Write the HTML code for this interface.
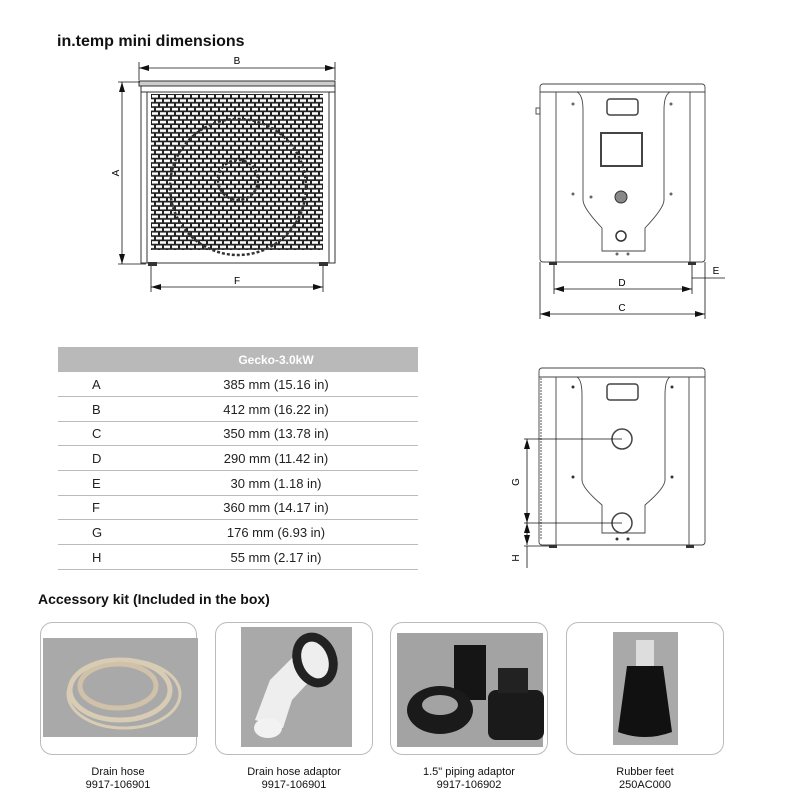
<!DOCTYPE html>
<html><head><meta charset="utf-8"><style>
html,body{margin:0;padding:0;background:#fff;width:800px;height:800px;overflow:hidden}
svg{display:block;font-family:"Liberation Sans",sans-serif}
</style></head><body>
<svg width="800" height="800" viewBox="0 0 800 800" xmlns="http://www.w3.org/2000/svg">
<defs>
<pattern id="brick" x="151" y="94" width="8" height="8.6" patternUnits="userSpaceOnUse">
<rect width="8" height="8.6" fill="#222"/>
<rect x="1" y="1" width="6" height="2.6" fill="#fff"/>
<rect x="-3" y="5.3" width="6" height="2.6" fill="#fff"/>
<rect x="5" y="5.3" width="6" height="2.6" fill="#fff"/>
</pattern>
<marker id="ar" markerWidth="10" markerHeight="6" refX="10" refY="3" orient="auto" markerUnits="userSpaceOnUse"><path d="M0,0 L10,3 L0,6z" fill="#111"/></marker>
<marker id="al" markerWidth="10" markerHeight="6" refX="0" refY="3" orient="auto" markerUnits="userSpaceOnUse"><path d="M10,0 L0,3 L10,6z" fill="#111"/></marker>
</defs>
<text x="57" y="46" font-size="16" font-weight="bold" fill="#111">in.temp mini dimensions</text>

<!-- left unit -->
<g stroke="#333" fill="none" stroke-width="1">
<rect x="141" y="82" width="194" height="181" fill="#fff"/>
<rect x="139" y="81" width="196" height="5" fill="#ccc"/>
<line x1="141" y1="92" x2="335" y2="92"/>
<line x1="147" y1="92" x2="147" y2="263"/>
<line x1="329" y1="92" x2="329" y2="263"/>
</g>
<rect x="151" y="94" width="172" height="156" fill="url(#brick)"/>
<circle cx="238" cy="187" r="68" fill="none" stroke="#333" stroke-width="2.5" stroke-dasharray="3 2"/>
<circle cx="238" cy="180" r="20" fill="none" stroke="#333" stroke-width="2.5" stroke-dasharray="3 2"/>
<rect x="148" y="262" width="9" height="4" fill="#333"/><rect x="319" y="262" width="9" height="4" fill="#333"/>
<g stroke="#111" stroke-width="0.8">
<line x1="139" y1="68" x2="335" y2="68" marker-start="url(#al)" marker-end="url(#ar)"/>
<line x1="139" y1="62" x2="139" y2="80"/><line x1="335" y1="62" x2="335" y2="80"/>
<line x1="122" y1="82" x2="122" y2="264" marker-start="url(#al)" marker-end="url(#ar)"/>
<line x1="118" y1="82" x2="140" y2="82"/><line x1="118" y1="264" x2="146" y2="264"/>
<line x1="151" y1="287" x2="323" y2="287" marker-start="url(#al)" marker-end="url(#ar)"/>
<line x1="151" y1="266" x2="151" y2="292"/><line x1="323" y1="266" x2="323" y2="292"/>
</g>
<text x="237" y="64" font-size="10" text-anchor="middle">B</text>
<text x="119" y="173" font-size="10" text-anchor="middle" transform="rotate(-90 119 173)">A</text>
<text x="237" y="284" font-size="10" text-anchor="middle">F</text>

<!-- right top unit -->
<g stroke="#444" fill="none" stroke-width="0.9">
<rect x="540" y="84" width="165" height="178" rx="3" fill="#fff"/>
<line x1="540" y1="92" x2="705" y2="92"/>
<line x1="556" y1="92" x2="556" y2="262"/><line x1="690" y1="92" x2="690" y2="262"/>
<path d="M577,92 Q583,95 583,110 L583,200 Q583,208 602,228 L602,251 L645,251 L645,228 Q664,208 664,200 L664,110 Q664,95 670,92"/>
<rect x="607" y="99" width="31" height="16" rx="3" stroke-width="1.5"/>
<rect x="601" y="133" width="41" height="33" stroke-width="2"/>
<rect x="536" y="108" width="4" height="6"/>
</g>
<circle cx="621" cy="197" r="6" fill="#888" stroke="#333"/>
<circle cx="621" cy="236" r="5" fill="#fff" stroke="#333" stroke-width="1.5"/>
<g fill="#666"><circle cx="573" cy="104" r="1.5"/><circle cx="671" cy="104" r="1.5"/><circle cx="573" cy="194" r="1.5"/><circle cx="671" cy="194" r="1.5"/><circle cx="591" cy="197" r="1.5"/><circle cx="617" cy="254" r="1.5"/><circle cx="628" cy="254" r="1.5"/></g>
<rect x="549" y="262" width="8" height="3" fill="#333"/><rect x="688" y="262" width="8" height="3" fill="#333"/>
<g stroke="#111" stroke-width="0.8">
<line x1="554" y1="289" x2="692" y2="289" marker-start="url(#al)" marker-end="url(#ar)"/>
<line x1="554" y1="265" x2="554" y2="294"/><line x1="692" y1="265" x2="692" y2="294"/>
<line x1="540" y1="314" x2="705" y2="314" marker-start="url(#al)" marker-end="url(#ar)"/>
<line x1="540" y1="262" x2="540" y2="319"/><line x1="705" y1="262" x2="705" y2="319"/>
<line x1="692" y1="278" x2="725" y2="278"/>
</g>
<text x="622" y="286" font-size="10" text-anchor="middle">D</text>
<text x="622" y="311" font-size="10" text-anchor="middle">C</text>
<text x="716" y="274" font-size="10" text-anchor="middle">E</text>

<!-- right bottom unit -->
<g stroke="#444" fill="none" stroke-width="0.9">
<rect x="539" y="368" width="166" height="177" rx="3" fill="#fff"/>
<line x1="539" y1="377" x2="705" y2="377"/>
<line x1="556" y1="377" x2="556" y2="545"/><line x1="689" y1="377" x2="689" y2="545"/>
<path d="M577,377 Q582,380 582,395 L582,480 Q582,488 602,505 L602,533 L645,533 L645,505 Q665,488 665,480 L665,395 Q665,380 670,377"/>
<rect x="607" y="384" width="31" height="16" rx="3" stroke-width="1.5"/>
<circle cx="622" cy="439" r="10" stroke-width="1.5"/>
<circle cx="622" cy="523" r="10" stroke-width="1.5"/>
<line x1="541" y1="378" x2="541" y2="540" stroke-dasharray="2 1"/>
</g>
<g fill="#333"><circle cx="573" cy="387" r="1.5"/><circle cx="672" cy="387" r="1.5"/><circle cx="573" cy="477" r="1.5"/><circle cx="672" cy="477" r="1.5"/><circle cx="617" cy="539" r="1.5"/><circle cx="628" cy="539" r="1.5"/></g>
<rect x="549" y="545" width="8" height="3" fill="#333"/><rect x="686" y="545" width="8" height="3" fill="#333"/>
<g stroke="#111" stroke-width="0.8">
<line x1="524" y1="439" x2="622" y2="439"/><line x1="524" y1="523" x2="622" y2="523"/>
<line x1="527" y1="439" x2="527" y2="523" marker-start="url(#al)" marker-end="url(#ar)"/>
<line x1="527" y1="523" x2="527" y2="545" marker-start="url(#al)" marker-end="url(#ar)"/>
<line x1="524" y1="546" x2="549" y2="546"/><line x1="527" y1="546" x2="527" y2="568"/>
</g>
<text x="519" y="482" font-size="10" text-anchor="middle" transform="rotate(-90 519 482)">G</text>
<text x="519" y="558" font-size="10" text-anchor="middle" transform="rotate(-90 519 558)">H</text>

<!-- table -->
<rect x="58" y="347" width="360" height="25" fill="#b9b9b9"/>
<text x="276" y="364" font-size="12" font-weight="bold" fill="#fff" text-anchor="middle">Gecko-3.0kW</text>
<g stroke="#bbb" stroke-width="1">
<line x1="58" y1="396.5" x2="418" y2="396.5"/><line x1="58" y1="421.5" x2="418" y2="421.5"/>
<line x1="58" y1="445.5" x2="418" y2="445.5"/><line x1="58" y1="470.5" x2="418" y2="470.5"/>
<line x1="58" y1="495.5" x2="418" y2="495.5"/><line x1="58" y1="519.5" x2="418" y2="519.5"/>
<line x1="58" y1="544.5" x2="418" y2="544.5"/><line x1="58" y1="569.5" x2="418" y2="569.5"/>
</g>
<g font-size="13" fill="#222">
<text x="92" y="389">A</text><text x="92" y="414">B</text><text x="92" y="438">C</text><text x="92" y="463">D</text>
<text x="92" y="488">E</text><text x="92" y="512">F</text><text x="92" y="537">G</text><text x="92" y="562">H</text>
</g>
<g font-size="13" fill="#222" text-anchor="middle">
<text x="276" y="389">385 mm (15.16 in)</text><text x="276" y="414">412 mm (16.22 in)</text>
<text x="276" y="438">350 mm (13.78 in)</text><text x="276" y="463">290 mm (11.42 in)</text>
<text x="276" y="488">30 mm (1.18 in)</text><text x="276" y="512">360 mm (14.17 in)</text>
<text x="276" y="537">176 mm (6.93 in)</text><text x="276" y="562">55 mm (2.17 in)</text>
</g>

<text x="38" y="604" font-size="14" font-weight="bold" fill="#111">Accessory kit (Included in the box)</text>

<!-- cards -->
<g fill="#fff" stroke="#bbb" stroke-width="1">
<rect x="40.5" y="622.5" width="156" height="132" rx="12"/>
<rect x="215.5" y="622.5" width="157" height="132" rx="12"/>
<rect x="390.5" y="622.5" width="157" height="132" rx="12"/>
<rect x="566.5" y="622.5" width="157" height="132" rx="12"/>
</g>
<rect x="43" y="638" width="155" height="99" fill="#a9a9a9"/>
<ellipse cx="120" cy="690" rx="50" ry="30" fill="none" stroke="#d8ccb4" stroke-width="5"/>
<ellipse cx="118" cy="686" rx="38" ry="22" fill="none" stroke="#cfc2a8" stroke-width="5"/>
<ellipse cx="124" cy="694" rx="56" ry="34" fill="none" stroke="#d8ccb4" stroke-width="3"/>
<rect x="241" y="627" width="111" height="120" fill="#a9a9a9"/>
<path d="M255,720 L270,680 L300,650 L318,672 L292,700 L283,728z" fill="#eee"/>
<ellipse cx="315" cy="660" rx="22" ry="28" fill="#222" transform="rotate(-20 315 660)"/>
<ellipse cx="315" cy="660" rx="13" ry="19" fill="#eee" transform="rotate(-20 315 660)"/>
<ellipse cx="268" cy="728" rx="14" ry="10" fill="#f2f2f2"/>
<rect x="397" y="633" width="146" height="114" fill="#a3a3a3"/>
<rect x="454" y="645" width="32" height="55" fill="#151515"/>
<ellipse cx="440" cy="710" rx="33" ry="24" fill="#1a1a1a"/>
<ellipse cx="440" cy="705" rx="18" ry="10" fill="#a3a3a3"/>
<rect x="488" y="690" width="56" height="50" rx="8" fill="#1a1a1a"/>
<rect x="498" y="668" width="30" height="25" fill="#222"/>
<rect x="613" y="632" width="65" height="113" fill="#a9a9a9"/>
<rect x="636" y="640" width="18" height="30" fill="#ddd"/>
<path d="M627,666 L663,666 L672,732 Q645,742 618,732z" fill="#111"/>
<g font-size="11" fill="#111" text-anchor="middle">
<text x="118" y="775">Drain hose</text><text x="118" y="788">9917-106901</text>
<text x="294" y="775">Drain hose adaptor</text><text x="294" y="788">9917-106901</text>
<text x="469" y="775">1.5" piping adaptor</text><text x="469" y="788">9917-106902</text>
<text x="645" y="775">Rubber feet</text><text x="645" y="788">250AC000</text>
</g>
</svg>
</body></html>
